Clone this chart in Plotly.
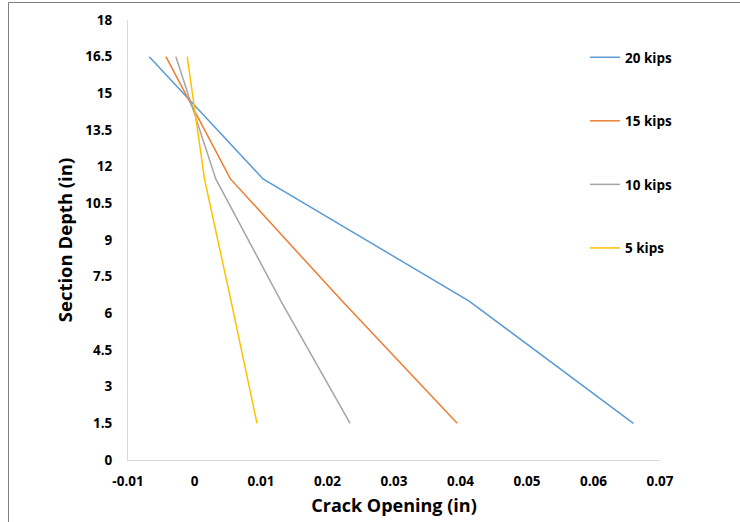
import plotly.graph_objects as go

depth = [16.5, 11.5, 6.5, 1.5]
series_names = ["20 kips", "15 kips", "10 kips", "5 kips"]
open_20 = [-0.0068, 0.0103, 0.0413, 0.0660]
open_15 = [-0.0043, 0.0054, 0.0222, 0.0395]
open_10 = [-0.0028, 0.0032, 0.0130, 0.0234]
open_5 = [-0.0011, 0.0015, 0.0055, 0.0094]
colors = ["#5B9BD5", "#ED7D31", "#A5A5A5", "#FFC000"]
x_ticks = [-0.01, 0, 0.01, 0.02, 0.03, 0.04, 0.05, 0.06, 0.07]
x_tick_text = ["-0.01", "0", "0.01", "0.02", "0.03", "0.04", "0.05", "0.06", "0.07"]
y_ticks = [0, 1.5, 3, 4.5, 6, 7.5, 9, 10.5, 12, 13.5, 15, 16.5, 18]
y_tick_text = ["0", "1.5", "3", "4.5", "6", "7.5", "9", "10.5", "12", "13.5", "15", "16.5", "18"]

FONT = "Open Sans"
fig = go.Figure()
for name, xs, c in zip(series_names, [open_20, open_15, open_10, open_5], colors):
    fig.add_trace(go.Scatter(x=xs, y=depth, mode="lines", name=name,
                             line=dict(color=c, width=1.5), legendgroup=name))

W, H = 740, 522
L, R, T = 128, 660, 20
BM = 62  # bottom margin
B = H - BM
pw, ph = R - L, B - T

def px_x(p):
    return (p - L) / pw

def px_y(p):
    return (B - p) / ph

fig.update_layout(
    width=W, height=H,
    margin=dict(l=L, r=W - R, t=T, b=BM, autoexpand=False),
    paper_bgcolor="white", plot_bgcolor="white",
    font=dict(family=FONT, color="#000000"),
    showlegend=True,
    legend=dict(x=px_x(585), y=px_y(42), xanchor="left", yanchor="top",
                tracegroupgap=43, itemwidth=30,
                font=dict(family=FONT, size=13.5, color="#000000", weight="bold"),
                bgcolor="rgba(0,0,0,0)"),
    xaxis=dict(range=[-0.01, 0.07], tickmode="array", tickvals=x_ticks, ticktext=x_tick_text,
               showgrid=False, zeroline=False, showline=True, linecolor="#D9D9D9", linewidth=1,
               automargin=False,
               ticks="outside", ticklen=9, tickcolor="rgba(0,0,0,0)",
               tickfont=dict(family=FONT, size=13.5, color="#000000", weight="bold"),
               title=dict(text="Crack Opening (in)", font=dict(family=FONT, size=18, color="#000000", weight="bold"),
                          standoff=10)),
    yaxis=dict(range=[0, 18], tickmode="array", tickvals=y_ticks, ticktext=y_tick_text,
               showgrid=False, zeroline=False, showline=True, linecolor="#D9D9D9", linewidth=1,
               automargin=False,
               ticks="outside", ticklen=12, tickcolor="rgba(0,0,0,0)",
               tickfont=dict(family=FONT, size=13.5, color="#000000", weight="bold"),
               title=dict(text="Section Depth (in)", font=dict(family=FONT, size=18.5, color="#000000", weight="bold"),
                          standoff=7)),
)

# outer chart frame (left and top edges visible)
fig.add_shape(type="rect", xref="paper", yref="paper", layer="above",
              x0=px_x(8.5), x1=px_x(800), y0=px_y(2.5), y1=px_y(600),
              line=dict(color="#7F7F7F", width=1), fillcolor="rgba(0,0,0,0)")

fig.write_html("out.html", config={"displayModeBar": False},
               post_script="document.body.style.margin='0';")
